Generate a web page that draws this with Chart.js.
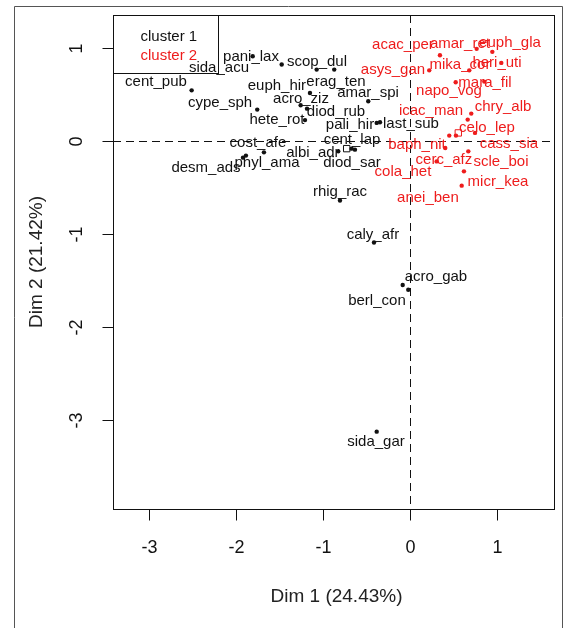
<!DOCTYPE html>
<html>
<head>
<meta charset="utf-8">
<script src="https://cdn.jsdelivr.net/npm/chart.js@4.4.1/dist/chart.umd.min.js"></script>
<style>
  html, body { margin: 0; padding: 0; background: #fff; }
  canvas { display: block; }
</style>
</head>
<body>
<canvas id="pcaChart" width="567" height="628"></canvas>
<script>
// cluster 1 (black)
const clusterOneNames = ['pani_lax', 'sida_acu', 'scop_dul', 'erag_ten', 'cent_pub', 'euph_hir', 'amar_spi', 'cype_sph',
  'acro_ziz', 'diod_rub', 'hete_rot', 'pali_hir', 'last_sub', 'cent_lap', 'cost_afe', 'albi_adr', 'diod_sar',
  'phyl_ama', 'desm_ads', 'rhig_rac', 'caly_afr', 'acro_gab', 'berl_con', 'sida_gar'];
const clusterOneDim1 = [-1.811, -1.076, -1.478, -0.874, -2.513, -1.153, -0.483, -1.759,
  -1.260, -1.187, -1.210, -0.386, -0.348, -0.674, -1.682, -0.828, -0.636,
  -1.889, -1.923, -0.808, -0.417, -0.023, -0.087, -0.386];
const clusterOneDim2 = [0.907, 0.764, 0.818, 0.764, 0.541, 0.513, 0.423, 0.334,
  0.380, 0.344, 0.221, 0.191, 0.197, -0.086, -0.126, -0.115, -0.097,
  -0.161, -0.183, -0.643, -1.095, -1.604, -1.553, -3.129];
// where the labels were put (in Dim units)
const clusterOneLabelDim1 = [-1.831, -2.199, -1.072, -0.854, -2.923, -1.533, -0.486, -2.186,
  -1.256, -0.854, -1.533, -0.693, 0.008, -0.670, -1.751, -1.119, -0.670,
  -1.647, -2.348, -0.808, -0.429, 0.295, -0.383, -0.394];
const clusterOneLabelDim2 = [0.904, 0.786, 0.850, 0.635, 0.635, 0.592, 0.517, 0.409,
  0.452, 0.312, 0.226, 0.172, 0.183, 0.011, -0.022, -0.129, -0.237,
  -0.237, -0.291, -0.549, -1.012, -1.464, -1.722, -3.240];

// cluster 2 (red)
const clusterTwoNames = ['amar_ret', 'euph_gla', 'acac_per', 'asys_gan', 'mika_cor', 'heri_uti', 'napo_vog', 'mara_fil',
  'chry_alb', 'icac_man', 'celo_lep', 'cola_het', 'cass_sia', 'baph_nit', 'scle_boi', 'cerc_afz', 'anei_ben', 'micr_kea'];
const clusterTwoDim1 = [0.763, 0.943, 0.341, 0.218, 0.678, 1.046, 0.522, 0.851,
  0.701, 0.660, 0.744, 0.448, 0.525, 0.402, 0.667, 0.303, 0.617, 0.591];
const clusterTwoDim2 = [0.987, 0.955, 0.918, 0.756, 0.756, 0.836, 0.628, 0.635,
  0.291, 0.226, 0.083, 0.054, 0.054, -0.079, -0.115, -0.223, -0.330, -0.484];
const clusterTwoLabelDim1 = [0.571, 1.146, -0.084, -0.199, 0.571, 0.997, 0.445, 0.859,
  1.066, 0.238, 0.882, -0.084, 1.134, 0.077, 1.043, 0.387, 0.203, 1.008];
const clusterTwoLabelDim2 = [1.044, 1.055, 1.033, 0.764, 0.818, 0.840, 0.538, 0.624,
  0.366, 0.323, 0.140, -0.334, -0.032, -0.043, -0.226, -0.205, -0.614, -0.441];

// cluster centres
const centreDim1 = [-0.731, 0.552];
const centreDim2 = [-0.086, 0.083];

const xTicks = [-3, -2, -1, 0, 1];
const yTicks = [-3, -2, -1, 0, 1];
const xTitle = 'Dim 1 (24.43%)';
const yTitle = 'Dim 2 (21.42%)';
const legendLabels = ['cluster 1', 'cluster 2'];

const RED = '#ee1c1c';
const INK = '#111';
const FONT = '"Liberation Sans", Arial, sans-serif';

const toPoints = (xs, ys) => xs.map((x, i) => ({ x, y: ys[i] }));

const baseDecor = {
  id: 'baseDecor',
  beforeDatasetsDraw(chart) {
    const { ctx, chartArea: a, scales: { x, y } } = chart;
    ctx.save();
    ctx.strokeStyle = INK;
    ctx.lineWidth = 1;
    ctx.setLineDash([8, 5]);
    const x0 = Math.round(x.getPixelForValue(0)) + 0.5;
    const y0 = Math.round(y.getPixelForValue(0)) + 0.5;
    ctx.beginPath();
    ctx.moveTo(x0, a.top); ctx.lineTo(x0, a.bottom);
    ctx.moveTo(a.left, y0); ctx.lineTo(a.right, y0);
    ctx.stroke();
    ctx.restore();
  },
  afterDatasetsDraw(chart) {
    const { ctx, chartArea: a, scales: { x, y } } = chart;
    ctx.save();

    ctx.strokeStyle = INK;
    ctx.lineWidth = 1;
    const L = Math.round(a.left) + 0.5, R = Math.round(a.right) + 0.5;
    const T = Math.round(a.top) + 0.5, B = Math.round(a.bottom) + 0.5;

    // legend (labels may sit on top of it)
    ctx.strokeRect(L, T, 105, 58);
    ctx.textAlign = 'left';
    ctx.textBaseline = 'middle';
    ctx.font = '15px ' + FONT;
    ctx.fillStyle = INK;
    ctx.fillText(legendLabels[0], L + 27, T + 21);
    ctx.fillStyle = RED;
    ctx.fillText(legendLabels[1], L + 27, T + 40);

    // point labels
    ctx.textAlign = 'center';
    ctx.fillStyle = INK;
    clusterOneNames.forEach((n, i) => {
      ctx.fillText(n, x.getPixelForValue(clusterOneLabelDim1[i]), y.getPixelForValue(clusterOneLabelDim2[i]));
    });
    ctx.fillStyle = RED;
    clusterTwoNames.forEach((n, i) => {
      ctx.fillText(n, x.getPixelForValue(clusterTwoLabelDim1[i]), y.getPixelForValue(clusterTwoLabelDim2[i]));
    });

    // plot box
    ctx.strokeRect(L, T, R - L, B - T);

    // x axis
    ctx.fillStyle = INK;
    ctx.font = '18px ' + FONT;
    ctx.beginPath();
    ctx.moveTo(Math.round(x.getPixelForValue(xTicks[0])) + 0.5, B);
    ctx.lineTo(Math.round(x.getPixelForValue(xTicks[xTicks.length - 1])) + 0.5, B);
    xTicks.forEach(v => {
      const px = Math.round(x.getPixelForValue(v)) + 0.5;
      ctx.moveTo(px, B); ctx.lineTo(px, B + 11);
      ctx.fillText(String(v), px, B + 39);
    });
    ctx.stroke();

    // y axis
    ctx.beginPath();
    ctx.moveTo(L, Math.round(y.getPixelForValue(yTicks[0])) + 0.5);
    ctx.lineTo(L, Math.round(y.getPixelForValue(yTicks[yTicks.length - 1])) + 0.5);
    yTicks.forEach(v => {
      const py = Math.round(y.getPixelForValue(v)) + 0.5;
      ctx.moveTo(L, py); ctx.lineTo(L - 11, py);
      ctx.save();
      ctx.translate(L - 36, py);
      ctx.rotate(-Math.PI / 2);
      ctx.fillText(String(v), 0, 0);
      ctx.restore();
    });
    ctx.stroke();

    // titles
    ctx.font = '19px ' + FONT;
    ctx.fillStyle = '#222';
    ctx.fillText(xTitle, (a.left + a.right) / 2 + 3, 597);
    ctx.save();
    ctx.translate(37, (a.top + a.bottom) / 2);
    ctx.rotate(-Math.PI / 2);
    ctx.fillText(yTitle, 0, 0);
    ctx.restore();

    // outer frame
    ctx.strokeStyle = '#555';
    ctx.beginPath();
    ctx.moveTo(14.5, 628); ctx.lineTo(14.5, 6.5); ctx.lineTo(562.5, 6.5); ctx.lineTo(562.5, 628);
    ctx.stroke();

    ctx.restore();
  }
};

const ctx = document.getElementById('pcaChart').getContext('2d');
new Chart(ctx, {
  type: 'scatter',
  data: {
    datasets: [
      {
        label: legendLabels[0],
        data: toPoints(clusterOneDim1, clusterOneDim2),
        backgroundColor: INK,
        borderColor: INK,
        pointRadius: 2.2,
        borderWidth: 0,
      },
      {
        label: legendLabels[1],
        data: toPoints(clusterTwoDim1, clusterTwoDim2),
        backgroundColor: RED,
        borderColor: RED,
        pointRadius: 2.2,
        borderWidth: 0,
      },
      {
        label: 'centres',
        data: toPoints(centreDim1, centreDim2),
        pointStyle: 'rect',
        pointRadius: 4.5,
        backgroundColor: 'rgba(0,0,0,0)',
        borderColor: [INK, RED],
        borderWidth: 1,
      },
    ],
  },
  options: {
    responsive: false,
    animation: false,
    events: [],
    layout: { padding: { left: 113, right: 13, top: 15, bottom: 119 } },
    scales: {
      x: { type: 'linear', min: -3.417, max: 1.652, display: false },
      y: { type: 'linear', min: -3.961, max: 1.351, display: false },
    },
    plugins: {
      legend: { display: false },
      tooltip: { enabled: false },
    },
  },
  plugins: [baseDecor],
});
</script>
</body>
</html>
